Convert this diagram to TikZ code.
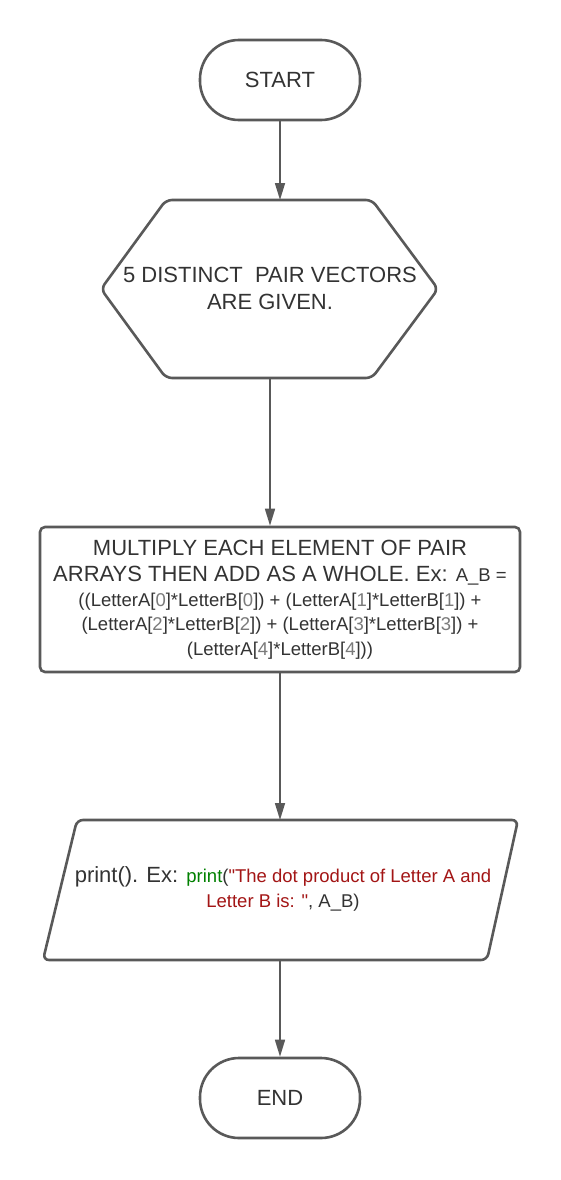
\documentclass[tikz,border=0pt]{standalone}
\usepackage{fontspec}
\setmainfont{Liberation Sans}[Ligatures=TeXOff]
\usetikzlibrary{calc,arrows.meta}

\definecolor{edge}{HTML}{595959}
\definecolor{txt}{HTML}{333333}
\definecolor{idx}{HTML}{7A7A7A}
\definecolor{codegreen}{HTML}{008000}
\definecolor{codered}{HTML}{A31515}
\newcommand{\ix}[1]{\textcolor{idx}{#1}}
\newcommand{\maintxt}{\fontsize{22}{27}\selectfont}
\newcommand{\codetxt}{\fontsize{18.5}{24.5}\selectfont}

\begin{document}
\begin{tikzpicture}[x=1pt, y=-1pt,
    box/.style={draw=edge, line width=2.6pt, fill=white},
    terminal/.style={box, rounded corners=39pt, minimum width=160pt, minimum height=80pt, text=txt, font=\maintxt},
    flow/.style={draw=edge, line width=1.6pt, -{Triangle[length=17pt,width=10pt]}}]
    \useasboundingbox (0,0) rectangle (560,1180);
    % start / end
    \node[terminal] (start) at (280,80) {START};
    \node[terminal] (finish) at (280,1098) {END};
    % hexagon
    \coordinate (hL) at (101,289); \coordinate (hR) at (438,289);
    \coordinate (hTL) at (166,200); \coordinate (hTR) at (372,200);
    \coordinate (hBL) at (166,378); \coordinate (hBR) at (372,378);
    \coordinate (hB) at (270,378);
    \draw[box, rounded corners=6pt] (hL) -- (hTL) -- (hTR) -- (hR) -- (hBR) -- (hBL) -- cycle;
    \node[text=txt, font=\maintxt, align=center] (given) at (270,288) {5 DISTINCT \ PAIR VECTORS\\ARE GIVEN.};
    % process box
    \node[box, rounded corners=5pt, minimum width=480pt, minimum height=145pt, text=txt, font=\codetxt, align=center] (multiply) at (280,599.5)
        {\maintxt MULTIPLY EACH ELEMENT OF PAIR\\[2pt]
         \maintxt ARRAYS THEN ADD AS A WHOLE. Ex: \codetxt A\_B =\\
         ((LetterA[\ix{0}]*LetterB[\ix{0}]) + (LetterA[\ix{1}]*LetterB[\ix{1}]) +\\
         (LetterA[\ix{2}]*LetterB[\ix{2}]) + (LetterA[\ix{3}]*LetterB[\ix{3}]) +\\
         (LetterA[\ix{4}]*LetterB[\ix{4}]))};
    % output parallelogram
    \coordinate (oTL) at (77,820); \coordinate (oTR) at (518,820);
    \coordinate (oBR) at (487,960); \coordinate (oBL) at (43,960);
    \coordinate (oB) at (280,960);
    \draw[box, rounded corners=6pt] (oTL) -- (oTR) -- (oBR) -- (oBL) -- cycle;
    \node[text=txt, font=\codetxt, align=center] (output) at (283,889)
        {{\maintxt print(). Ex: }\textcolor{codegreen}{print}(\textcolor{codered}{\char34 The dot product of Letter A and}\\
         \textcolor{codered}{Letter B is: \char34}, A\_B)};
    % connectors
    \draw[flow] (start) -- (start |- hTL);
    \draw[flow] (hB) -- (hB |- multiply.north);
    \draw[flow] (multiply) -- (multiply |- oTL);
    \draw[flow] (oB) -- (finish);
\end{tikzpicture}
\end{document}
